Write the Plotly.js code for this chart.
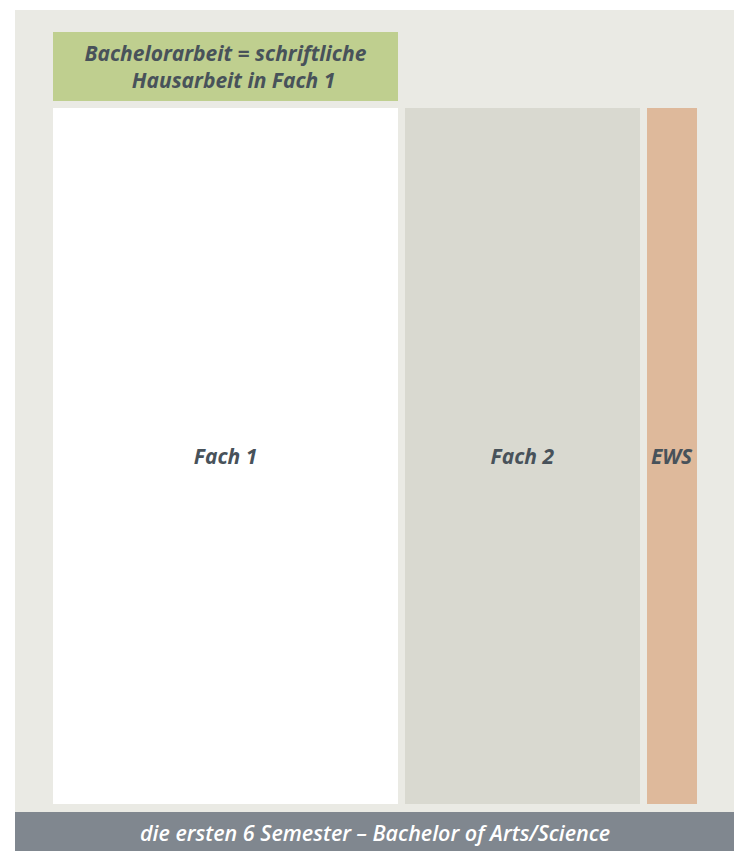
<!DOCTYPE html>
<html>
<head>
<meta charset="utf-8">
<script src="https://cdn.plot.ly/plotly-3.0.1.min.js"></script>
<style>html,body{margin:0;padding:0;background:#fff;}#chart{width:736px;height:851px;}</style>
</head>
<body>
<div id="chart"></div>
<script>
// ---- data ----
const categories = ['Fach 1', 'Fach 2', 'EWS'];
const columnWidths = [345, 235, 50];          // relative share of each subject column
const columnColors = ['#FFFFFF', '#D9D9D0', '#DEB99B'];
const thesisLabel = 'Bachelorarbeit = schriftliche<br>   Hausarbeit in Fach 1';
const thesisSpan = ['Fach 1'];                 // thesis sits on top of Fach 1
const footerLabel = 'die ersten 6 Semester – Bachelor of Arts/Science';

// ---- layout helpers (drawing geometry, not data) ----
const leftPad = 38, gap = 7, colBase = 8, colHeight = 696, thesisHeight = 69;
const xCenters = [], xStarts = [];
let cursor = leftPad;
columnWidths.forEach(w => { xStarts.push(cursor); xCenters.push(cursor + w / 2); cursor += w + gap; });

const txtFont = {family: 'Open Sans', size: 21, color: '#48525A', weight: 700, style: 'italic'};

const columns = {
  type: 'bar',
  x: xCenters,
  y: categories.map(() => colHeight),
  base: categories.map(() => colBase),
  width: columnWidths,
  text: categories,
  textposition: 'inside',
  insidetextanchor: 'middle',
  textangle: 0,
  constraintext: 'none',
  insidetextfont: txtFont,
  marker: {color: columnColors, line: {width: 0}},
  hoverinfo: 'text',
  showlegend: false
};

const thesisIdx = thesisSpan.map(c => categories.indexOf(c));
const thesis = {
  type: 'bar',
  x: thesisIdx.map(i => xCenters[i]),
  y: thesisIdx.map(() => thesisHeight),
  base: thesisIdx.map(() => colBase + colHeight + gap),
  width: thesisIdx.map(i => columnWidths[i]),
  text: [thesisLabel],
  textposition: 'inside',
  insidetextanchor: 'middle',
  textangle: 0,
  constraintext: 'none',
  insidetextfont: Object.assign({}, txtFont, {size: 21}),
  marker: {color: '#BFCF8F', line: {width: 0}},
  hoverinfo: 'text',
  showlegend: false
};

const layout = {
  width: 736, height: 851,
  margin: {l: 15, r: 2, t: 10, b: 39},
  paper_bgcolor: '#FFFFFF',
  plot_bgcolor: '#EAEAE4',
  barmode: 'overlay',
  xaxis: {range: [0, 719], visible: false, fixedrange: true},
  yaxis: {range: [0, 802], visible: false, fixedrange: true},
  shapes: [{
    type: 'rect', xref: 'x', yref: 'paper',
    x0: 0, x1: 719, y0: -39 / 802, y1: 0,
    fillcolor: '#80878F', line: {width: 0}, layer: 'below'
  }],
  annotations: [{
    text: footerLabel, xref: 'x', yref: 'paper',
    x: 359.5, y: -20 / 802, showarrow: false,
    xanchor: 'center', yanchor: 'middle',
    font: {family: 'Open Sans', size: 21.5, color: '#FFFFFF', weight: 600, style: 'italic'}
  }]
};

Plotly.newPlot('chart', [columns, thesis], layout, {displayModeBar: false, staticPlot: true});
</script>
</body>
</html>
